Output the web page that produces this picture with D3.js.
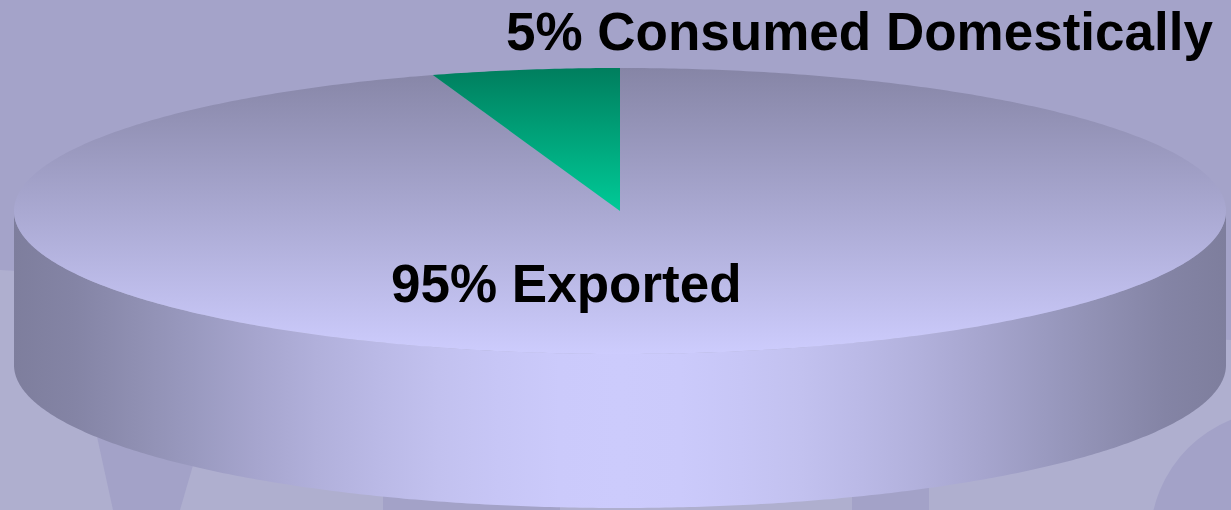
<!DOCTYPE html>
<html>
<head>
<meta charset="utf-8">
<script src="https://cdn.jsdelivr.net/npm/d3@7"></script>
<style>
  body { margin: 0; background: #a4a3c9; overflow: hidden; }
  .label { font-family: "Liberation Sans", Arial, sans-serif; font-weight: bold; fill: #000; }
</style>
</head>
<body>
<svg class="pie3d" width="1231" height="510"></svg>
<script>
// data
let categories = ["Exported", "Consumed Domestically"];
let shares = [95, 5];
let labels = ["95% Exported", "5% Consumed Domestically"];

let svg = d3.select(".pie3d");
let width = +svg.attr("width");
let height = +svg.attr("height");

// pie geometry (projected ellipse + wall)
let cx = 620, cy = 211;
let rx = 606, ry = 143;
let depth = 154;

let defs = svg.append("defs");

// horizontal shading of the cylinder wall
let wallGrad = defs.append("linearGradient")
    .attr("id", "wallGrad")
    .attr("gradientUnits", "userSpaceOnUse")
    .attr("x1", cx - rx).attr("x2", cx + rx)
    .attr("y1", 0).attr("y2", 0);
let shade = d3.interpolateRgb("#7e7e9d", "#cccbfc");
d3.range(0, 1.0001, 0.05).forEach(t => {
    let u = 2 * t - 1;
    wallGrad.append("stop")
        .attr("offset", t)
        .attr("stop-color", shade(Math.pow(Math.max(0, 1 - u * u), 1.5)));
});

let topGrad = defs.append("linearGradient")
    .attr("id", "topGrad")
    .attr("gradientUnits", "userSpaceOnUse")
    .attr("x1", 0).attr("x2", 0)
    .attr("y1", cy - ry).attr("y2", cy + ry);
topGrad.append("stop").attr("offset", 0).attr("stop-color", "#8685a6");
topGrad.append("stop").attr("offset", 1).attr("stop-color", "#cdccfd");

let greenGrad = defs.append("linearGradient")
    .attr("id", "greenGrad")
    .attr("gradientUnits", "userSpaceOnUse")
    .attr("x1", 0).attr("x2", 0)
    .attr("y1", cy - ry).attr("y2", cy);
greenGrad.append("stop").attr("offset", 0).attr("stop-color", "#007e5e");
greenGrad.append("stop").attr("offset", 1).attr("stop-color", "#00ca97");

let fills = ["url(#topGrad)", "url(#greenGrad)"];

// backdrop: table + legs behind the pie
svg.append("rect").attr("width", width).attr("height", height).attr("fill", "#a4a3c9");
svg.append("path")
   .attr("d", d3.line()([[0, 270], [width, 340], [width, height], [0, height]]))
   .attr("fill", "#afafcf");
let legColor = "#a3a2c8";
[
  [[89, 400], [212, 400], [180, 510], [113, 510]],
  [[383, 470], [560, 470], [560, 510], [383, 510]],
  [[852, 470], [929, 470], [929, 510], [852, 510]]
].forEach(p => {
    svg.append("path").attr("d", d3.line()(p)).attr("fill", legColor);
});
svg.append("circle")
   .attr("cx", 1280).attr("cy", 540).attr("r", 130)
   .attr("fill", legColor);

// projection of an angle (clockwise from 12 o'clock) onto the ellipse
function project(a, dy) {
    return [cx + rx * Math.sin(a), cy - ry * Math.cos(a) + (dy || 0)];
}
function arcPoints(a0, a1, dy) {
    let n = Math.max(2, Math.ceil(Math.abs(a1 - a0) / 0.01));
    return d3.range(n + 1).map(i => project(a0 + (a1 - a0) * i / n, dy));
}

let pie = d3.pie().sort(null).startAngle(0).endAngle(2 * Math.PI);
let arcs = pie(shares);

let g = svg.append("g");

// front wall: only the part facing the viewer (PI/2 .. 3PI/2)
arcs.forEach((d, i) => {
    let a0 = Math.max(d.startAngle, Math.PI / 2);
    let a1 = Math.min(d.endAngle, 3 * Math.PI / 2);
    if (a1 <= a0) return;
    let pts = arcPoints(a0, a1, 0).concat(arcPoints(a1, a0, depth));
    g.append("path")
     .attr("class", "wall")
     .attr("d", d3.line()(pts) + "Z")
     .attr("fill", "url(#wallGrad)");
});

// top faces
arcs.forEach((d, i) => {
    let pts = [[cx, cy]].concat(arcPoints(d.startAngle, d.endAngle, 0));
    g.append("path")
     .attr("class", "slice " + categories[i])
     .attr("d", d3.line()(pts) + "Z")
     .attr("fill", fills[i]);
});

// labels
let labelPos = [[cx - 229, cy + 91], [cx - 114, 50]];
labels.forEach((t, i) => {
    svg.append("text")
       .attr("class", "label")
       .attr("x", labelPos[i][0])
       .attr("y", labelPos[i][1])
       .attr("font-size", 53)
       .text(t);
});
</script>
</body>
</html>
